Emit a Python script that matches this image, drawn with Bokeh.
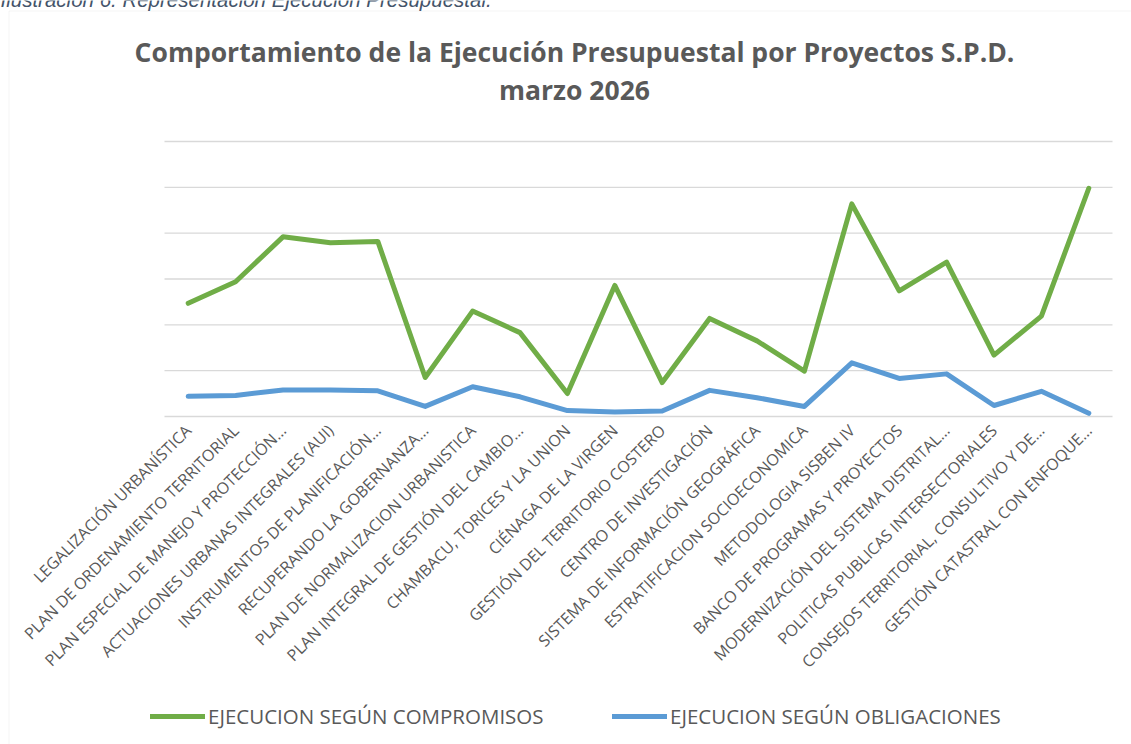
from math import pi
from bokeh.plotting import figure
from bokeh.models import (Range1d, Legend, LegendItem, ColumnDataSource, Label,
                          BoxAnnotation)
from bokeh.core.properties import value
from bokeh.embed import file_html
from bokeh.resources import INLINE

categories = [
    "LEGALIZACIÓN URBANÍSTICA",
    "PLAN DE ORDENAMIENTO TERRITORIAL",
    "PLAN ESPECIAL DE MANEJO Y PROTECCIÓN…",
    "ACTUACIONES URBANAS INTEGRALES (AUI)",
    "INSTRUMENTOS DE PLANIFICACIÓN…",
    "RECUPERANDO LA GOBERNANZA…",
    "PLAN DE NORMALIZACION URBANISTICA",
    "PLAN INTEGRAL DE GESTIÓN DEL CAMBIO…",
    "CHAMBACU, TORICES Y LA UNION",
    "CIÉNAGA DE LA VIRGEN",
    "GESTIÓN DEL TERRITORIO COSTERO",
    "CENTRO DE INVESTIGACIÓN",
    "SISTEMA DE INFORMACIÓN GEOGRÁFICA",
    "ESTRATIFICACION SOCIOECONOMICA",
    "METODOLOGIA SISBEN IV",
    "BANCO DE PROGRAMAS Y PROYECTOS",
    "MODERNIZACIÓN DEL SISTEMA DISTRITAL…",
    "POLITICAS PUBLICAS INTERSECTORIALES",
    "CONSEJOS TERRITORIAL, CONSULTIVO Y DE…",
    "GESTIÓN CATASTRAL CON ENFOQUE…",
]
compromisos = [24.7, 29.4, 39.2, 37.9, 38.2, 8.5, 23.0, 18.3, 5.0, 28.6,
               7.4, 21.4, 16.5, 9.9, 46.4, 27.4, 33.7, 13.4, 21.9, 49.8]
obligaciones = [4.4, 4.6, 5.8, 5.8, 5.6, 2.2, 6.5, 4.3, 1.3, 1.0,
                1.2, 5.7, 4.1, 2.2, 11.7, 8.3, 9.3, 2.4, 5.5, 0.7]
y_ticks = [0, 10, 20, 30, 40, 50, 60]

caption = "Ilustración 6. Representación Ejecución Presupuestal."
title_line1 = "Comportamiento de la Ejecución Presupuestal por Proyectos S.P.D."
title_line2 = "marzo 2026"
series_names = ["EJECUCION SEGÚN COMPROMISOS", "EJECUCION SEGÚN OBLIGACIONES"]

GREEN = "#70ad47"
BLUE = "#5b9bd5"
TEXT = "#595959"
GRID = "#d9d9d9"

# page geometry (pixels) -> scale set-up
W, H = 1131, 744
X0, BAND = 187.7, 47.4      # pixel x of first category, pixels per category
Y0, UNIT = 416.0, 4.5833    # pixel y of value 0, pixels per value unit


def px_x(px):
    return (px - X0) / BAND


def px_y(py):
    return (Y0 - py) / UNIT


idx = list(range(len(categories)))
source = ColumnDataSource(data=dict(x=idx, cat=categories, comp=compromisos,
                                    obl=obligaciones))
grid_src = ColumnDataSource(data=dict(y=y_ticks, x0=[-0.5] * len(y_ticks),
                                      x1=[len(categories) - 0.5] * len(y_ticks)))

p = figure(width=W, height=H,
           x_range=Range1d(px_x(0), px_x(W)),
           y_range=Range1d(px_y(H), px_y(0)),
           x_axis_type=None, y_axis_type=None,
           output_backend="svg", toolbar_location=None,
           min_border=0)
p.outline_line_color = None
p.xgrid.visible = False
p.ygrid.visible = False
p.background_fill_color = "white"
p.border_fill_color = "white"

# chart area border
p.add_layout(BoxAnnotation(left=px_x(8.5), top=px_y(10.5), right=px_x(W + 50),
                           bottom=px_y(H + 50), fill_alpha=0,
                           line_color=GRID, line_width=1))

# horizontal gridlines
p.segment(x0="x0", x1="x1", y0="y", y1="y", source=grid_src,
          line_color=GRID, line_width=1.3)

# category labels (rotated, like Excel's axis labels)
p.text(x="x", y=px_y(427), text="cat", source=source, angle=pi / 4,
       text_align="right", text_baseline="middle",
       text_font=value("Open Sans"), text_font_size="16px", text_color=TEXT)

r1 = p.line(x="x", y="comp", source=source, line_color=GREEN, line_width=5,
            line_cap="round", line_join="round")
r2 = p.line(x="x", y="obl", source=source, line_color=BLUE, line_width=5,
            line_cap="round", line_join="round")

# titles
for txt, py in [(title_line1, 51), (title_line2, 89)]:
    p.add_layout(Label(x=px_x(574), y=px_y(py), text=txt, text_align="center",
                       text_baseline="middle", text_font="Open Sans",
                       text_font_style="bold", text_font_size="26.5px",
                       text_color=TEXT))

# cut-off caption at the very top
p.add_layout(Label(x=px_x(0), y=px_y(-1.5), text=caption, text_align="left",
                   text_baseline="alphabetic", text_font="Liberation Sans",
                   text_font_style="italic", text_font_size="20.5px",
                   text_color="#44546a"))

# legend (one per entry so each sits at its own place)
for r, name, lx in [(r1, series_names[0], 150), (r2, series_names[1], 612)]:
    lg = Legend(items=[LegendItem(label=name, renderers=[r])],
                location=(lx, H - 730), orientation="horizontal",
                glyph_width=55, glyph_height=20, label_height=20,
                label_standoff=3, padding=0, margin=0,
                border_line_color=None, background_fill_alpha=0,
                label_text_font="Open Sans", label_text_font_size="20.5px",
                label_text_color=TEXT)
    p.add_layout(lg, "center")

open("out.html", "w").write(file_html(p, INLINE))
